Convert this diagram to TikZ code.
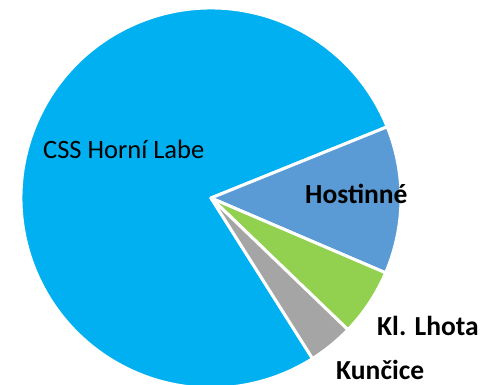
\documentclass[tikz,border=0pt]{standalone}
\usepackage{fontspec}
\setmainfont{Carlito}
\usepackage{xcolor}
\usepackage{tikz}

\definecolor{cssblue}{HTML}{00B0F0}
\definecolor{hostblue}{HTML}{5B9BD5}
\definecolor{lhotagreen}{HTML}{92D050}
\definecolor{kungray}{HTML}{A5A5A5}

\tikzset{
  slice/.style={draw=white, line width=3pt, line join=round},
  lbl/.style={anchor=base west, inner sep=0pt, font=\fontsize{26.5}{30}\selectfont},
  boldlbl/.style={lbl, font=\fontsize{27.5}{32}\selectfont\bfseries}
}

\begin{document}
\begin{tikzpicture}[x=1pt, y=1pt]
        \useasboundingbox (0,0) rectangle (485,385);
        \clip (0,0) rectangle (485,385);
        \coordinate (c) at (211, 187);
        \filldraw [slice, fill = cssblue] (c) -- ++(22:190) arc[start angle=22, end angle=302.3, radius=190] -- cycle;
        \filldraw [slice, fill = hostblue] (c) -- ++(-23.2:190) arc[start angle=-23.2, end angle=22, radius=190] -- cycle;
        \filldraw [slice, fill = lhotagreen] (c) -- ++(-43.9:190) arc[start angle=-43.9, end angle=-23.2, radius=190] -- cycle;
        \filldraw [slice, fill = kungray] (c) -- ++(-57.7:190) arc[start angle=-57.7, end angle=-43.9, radius=190] -- cycle;
        \node (css) at (43, 226) [lbl] {CSS Horní Labe};
        \node (host) at (305, 181) [boldlbl] {Hostinné};
        \node (lhota) at (377, 49) [boldlbl] {Kl. Lhota};
        \node (kun) at (336, 5) [boldlbl] {Kunčice};
    \end{tikzpicture}
\end{document}
